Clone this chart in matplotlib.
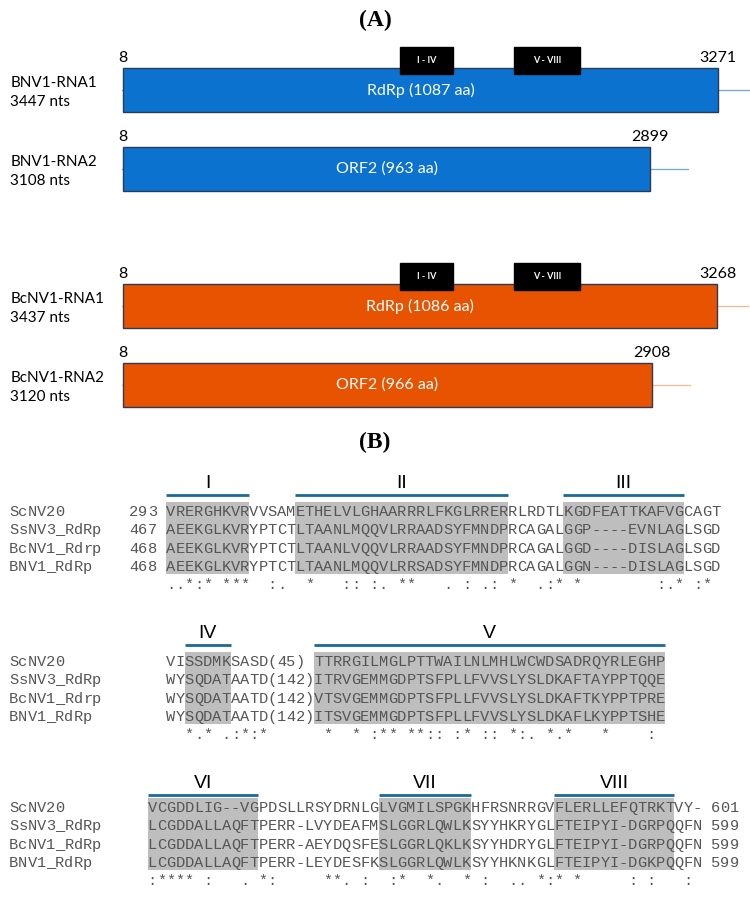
import matplotlib.pyplot as plt
from matplotlib.patches import Rectangle

W, H = 750, 897

# ---------------- panel A: genome organisation ----------------
rna_names = ['BNV1-RNA1', 'BNV1-RNA2', 'BcNV1-RNA1', 'BcNV1-RNA2']
rna_lengths = [3447, 3108, 3437, 3120]
orf_starts = [8, 8, 8, 8]
orf_ends = [3271, 2899, 3268, 2908]
orf_labels = ['RdRp (1087 aa)', 'ORF2 (963 aa)', 'RdRp (1086 aa)', 'ORF2 (966 aa)']
has_motifs = [True, False, True, False]
box_labels = ['I - IV', 'V - VIII']
box_starts = [1527, 2152]   # approx. nt position of the motif blocks
box_ends = [1818, 2514]

# ---------------- panel B: RdRp alignment ----------------
names_1 = ['ScNV20', 'SsNV3_RdRp', 'BcNV1_Rdrp', 'BNV1_RdRp']
start_pos_1 = [293, 467, 468, 468]
seqs_1 = ['VRERGHKVRVVSAMETHELVLGHAARRRLFKGLRRERRLRDTLKGDFEATTKAFVGCAGT',
          'AEEKGLKVRYPTCTLTAANLMQQVLRRAADSYFMNDPRCAGALGGP----EVNLAGLSGD',
          'AEEKGLKVRYPTCTLTAANLVQQVLRRAADSYFMNDPRCAGALGGD----DISLAGLSGD',
          'AEEKGLKVRYPTCTLTAANLMQQVLRRSADSYFMNDPRCAGALGGN----DISLAGLSGD']
cons_1 = '..*:* ***  :.  *   :: :. **   . : .: *  .:* *        :.* :* '
motifs_1 = [('I', 1, 9), ('II', 15, 37), ('III', 44, 56)]

names_2 = ['ScNV20', 'SsNV3_RdRp', 'BcNV1_Rdrp', 'BNV1_RdRp']
seqs_2 = ['VISSDMKSASD(45) TTRRGILMGLPTTWAILNLMHLWCWDSADRQYRLEGHP',
          'WYSQDATAATD(142)ITRVGEMMGDPTSFPLLFVVSLYSLDKAFTAYPPTQQE',
          'WYSQDATAATD(142)VTSVGEMMGDPTSFPLLFVVSLYSLDKAFTKYPPTPRE',
          'WYSQDATAATD(142)ITSVGEMMGDPTSFPLLFVVSLYSLDKAFLKYPPTSHE']
cons_2 = '  *.* .:*:*      *  * :** **:: :* :: *:. *.*   *    : '
motifs_2 = [('IV', 3, 7), ('V', 17, 54)]

names_3 = ['ScNV20', 'SsNV3_RdRp', 'BcNV1_RdRp', 'BNV1_RdRp']
end_pos_3 = [601, 599, 599, 599]
seqs_3 = ['VCGDDLIG--VGPDSLLRSYDRNLGLVGMILSPGKHFRSNRRGVFLERLLEFQTRKTVY-',
          'LCGDDALLAQFTPERR-LVYDEAFMSLGGRLQWLKSYYHKRYGLFTEIPYI-DGRPQQFN',
          'LCGDDALLAQFTPERR-AEYDQSFESLGGRLQKLKSYYHDRYGLFTEIPYI-DGRPQQFN',
          'LCGDDALLAQFTPERR-LEYDESFKSLGGRLQWLKSYYHKNKGLFTEIPYI-DGKPQQFN']
cons_3 = ':**** :   . *:     **. :  :*  *.  * :  .. *:* *     : :   : '
motifs_3 = [('VI', 1, 12), ('VII', 26, 35), ('VIII', 45, 57)]

# ---------------- layout / style ----------------
bar_tops = [68, 147, 284, 363]
bar_h = 44
bar_colors = ['#0B73CF', '#0B73CF', '#E85302', '#E85302']
utr_colors = ['#6FA8DC', '#6FA8DC', '#F7B98B', '#F7B98B']
sans = ['Lato', 'DejaVu Sans']
mono = 'Liberation Mono'
cw = 9.24          # width of one monospace column in px
x_text = 9.0
fs_seq = 11.1
row_gap = 18.3
seq_color = '#555555'
shade = '#BEBEBE'
motif_color = '#1B6A97'

fig = plt.figure(figsize=(7.5, 8.97), dpi=100)
axa = fig.add_axes([0, 0, 1, 1])
axa.set_xlim(-666.5, 3446.5)
axa.set_ylim(H, 0)
axa.axis('off')
ax = fig.add_axes([0, 0, 1, 1])
ax.set_xlim(0, W)
ax.set_ylim(H, 0)
ax.axis('off')

ax.text(375, 20, '(A)', family='Liberation Serif', fontweight='bold', fontsize=17,
        ha='center', va='center')
ax.text(375, 442, '(B)', family='Liberation Serif', fontweight='bold', fontsize=17,
        ha='center', va='center')

for i in range(len(rna_names)):
    top = bar_tops[i]
    yc = top + bar_h / 2
    axa.plot([0, rna_lengths[i]], [yc, yc], color=utr_colors[i], lw=0.9, zorder=1)
    axa.add_patch(Rectangle((orf_starts[i], top), orf_ends[i] - orf_starts[i], bar_h,
                            facecolor=bar_colors[i], edgecolor='#2B3A55', lw=1.0, zorder=2))
    axa.text((orf_starts[i] + orf_ends[i]) / 2, yc, orf_labels[i], color='white',
             fontsize=11.5, family=sans, ha='center', va='center', zorder=3)
    axa.text(orf_starts[i], top - 10, str(orf_starts[i]), fontsize=11.5, family=sans,
             ha='center', va='center')
    axa.text(orf_ends[i], top - 10, str(orf_ends[i]), fontsize=11.5, family=sans,
             ha='center', va='center')
    if has_motifs[i]:
        for lab, s, e in zip(box_labels, box_starts, box_ends):
            axa.add_patch(Rectangle((s, top - 21), e - s, 27, facecolor='black',
                                    edgecolor='black', zorder=4))
            axa.text((s + e) / 2, top - 7.5, lab, color='white', fontsize=6.5,
                     fontweight='bold', family=sans, ha='center', va='center', zorder=5)
    ax.text(10.5, yc - 7, rna_names[i], fontsize=11, family=sans, ha='left', va='center')
    ax.text(10.5, yc + 12, f'{rna_lengths[i]} nts', fontsize=11, family=sans,
            ha='left', va='center')


def draw_chars(text, col0, y):
    for j, ch in enumerate(text):
        if ch != ' ':
            ax.text(x_text + (col0 + j + 0.5) * cw, y, ch, family=mono, fontsize=fs_seq,
                    color=seq_color, ha='center', va='center')


def draw_block(names, seqs, cons, motifs, seq_col, y_line, y_row1,
               left_nums=None, right_nums=None):
    x_seq = x_text + seq_col * cw
    for lab, c0, c1 in motifs:
        xa = x_seq + (c0 - 1) * cw
        xb = x_seq + c1 * cw
        ax.add_patch(Rectangle((xa, y_row1 - 9.5), xb - xa, 3 * row_gap + 17,
                               facecolor=shade, edgecolor='none', zorder=0))
        ax.plot([xa, xb], [y_line, y_line], color=motif_color, lw=2.0, solid_capstyle='butt')
        ax.text((xa + xb) / 2, y_line - 12, lab, family='Liberation Sans', fontsize=14,
                ha='center', va='center')
    for r in range(len(names)):
        y = y_row1 + r * row_gap
        draw_chars(names[r], 0, y)
        if left_nums is not None:
            draw_chars(str(left_nums[r]), seq_col - 4, y)
        draw_chars(seqs[r], seq_col, y)
        if right_nums is not None:
            draw_chars(str(right_nums[r]), seq_col + len(seqs[r]) + 1, y)
    draw_chars(cons, seq_col, y_row1 + len(names) * row_gap)


draw_block(names_1, seqs_1, cons_1, motifs_1, 17, 495, 512, left_nums=start_pos_1)
draw_block(names_2, seqs_2, cons_2, motifs_2, 17, 645, 662)
draw_block(names_3, seqs_3, cons_3, motifs_3, 15, 795, 808, right_nums=end_pos_3)

fig.savefig('out.png', dpi=100)
